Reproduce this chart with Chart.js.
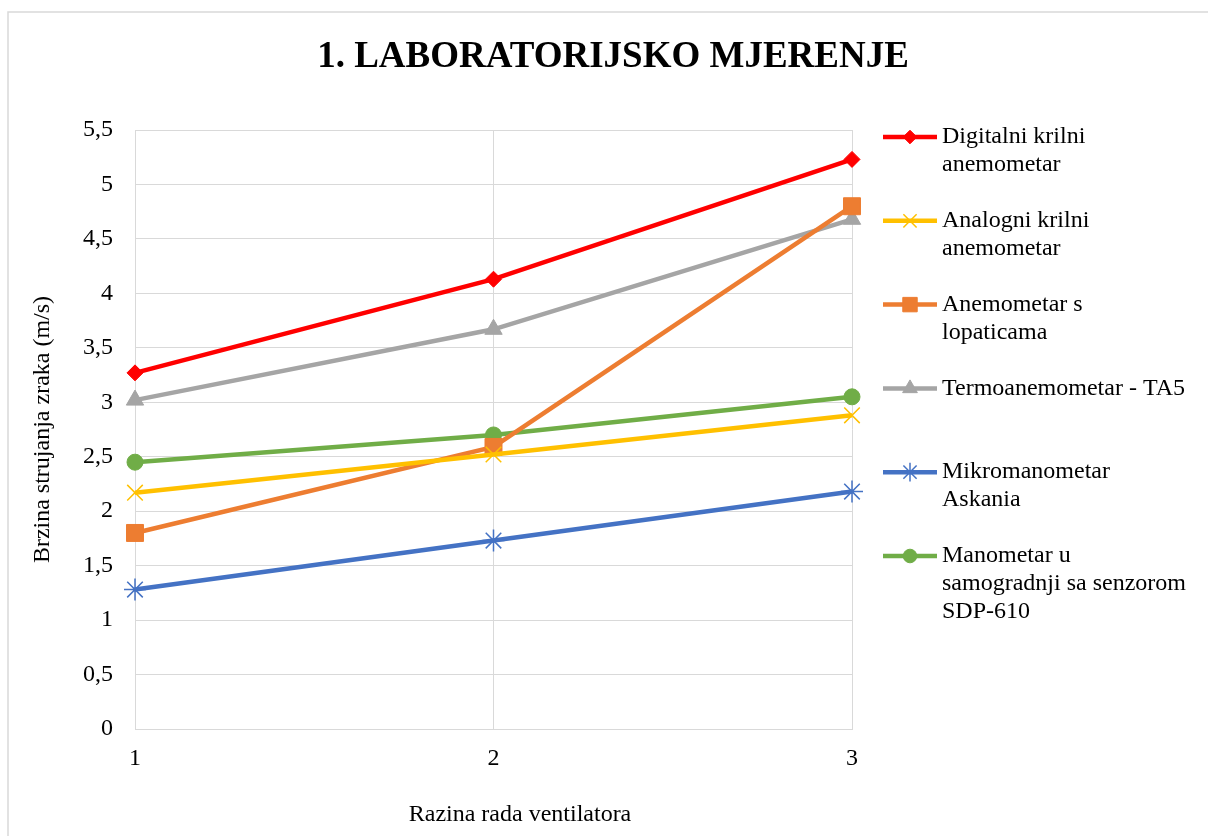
<!DOCTYPE html>
<html>
<head>
<meta charset="utf-8">
<script src="https://cdn.jsdelivr.net/npm/chart.js@4.4.1/dist/chart.umd.min.js"></script>
<style>
	body { margin: 0; background: #fff; }
	#wrap { width: 1208px; height: 836px; }
</style>
</head>
<body>
<div id="wrap"><canvas id="chart_mjerenje" width="1208" height="836"></canvas></div>
<script>
// podaci
var razine = ['1', '2', '3'];
var yOznake = ['0', '0,5', '1', '1,5', '2', '2,5', '3', '3,5', '4', '4,5', '5', '5,5'];

var digitalniKrilni = [3.27, 4.13, 5.23];
var analogniKrilni = [2.17, 2.52, 2.88];
var lopatice = [1.80, 2.59, 4.80];
var termoTA5 = [3.02, 3.67, 4.68];
var askania = [1.28, 1.73, 2.18];
var sdp610 = [2.45, 2.70, 3.05];

var nazivi = [
	'Digitalni krilni\nanemometar',
	'Analogni krilni\nanemometar',
	'Anemometar s\nlopaticama',
	'Termoanemometar - TA5',
	'Mikromanometar\nAskania',
	'Manometar u\nsamogradnji sa senzorom\nSDP-610',
];

var naslov = '1. LABORATORIJSKO MJERENJE';
var xNaslov = 'Razina rada ventilatora';
var yNaslov = 'Brzina strujanja zraka (m/s)';

var font = 'Liberation Serif';

function serija(label, data, color, style, radius, bw) {
	return {
		label: label,
		data: data,
		borderColor: color,
		backgroundColor: color,
		borderWidth: 4.5,
		pointStyle: style,
		pointRadius: radius,
		pointHoverRadius: radius,
		pointBackgroundColor: color,
		pointBorderColor: color,
		pointBorderWidth: bw,
		tension: 0,
		fill: false,
		clip: false,
	};
}

// legenda, okvir i naslov x osi
var legendaDesno = {
	id: 'legendaDesno',
	beforeDraw: function (chart) {
		var ctx = chart.ctx;
		ctx.save();
		ctx.fillStyle = '#fff';
		ctx.fillRect(0, 0, chart.width, chart.height);
		ctx.strokeStyle = '#d9d9d9';
		ctx.lineWidth = 1.5;
		ctx.strokeRect(8, 12, 1400, 1000);
		ctx.restore();
	},
	afterDraw: function (chart) {
		var ctx = chart.ctx;
		ctx.save();
		ctx.font = '24px "' + font + '"';
		ctx.fillStyle = '#000';
		ctx.textBaseline = 'middle';
		ctx.textAlign = 'center';
		ctx.fillText(xNaslov, 520, 814.5);
		ctx.textAlign = 'left';
		chart.data.datasets.forEach(function (ds, i) {
			var y = 137 + i * 83.8;
			ctx.strokeStyle = ds.borderColor;
			ctx.lineWidth = 4.5;
			ctx.beginPath();
			ctx.moveTo(883, y);
			ctx.lineTo(937, y);
			ctx.stroke();
			ctx.fillStyle = ds.pointBackgroundColor;
			ctx.strokeStyle = ds.pointBorderColor;
			ctx.lineWidth = ds.pointBorderWidth;
			if (Chart.helpers && Chart.helpers.drawPoint) {
				Chart.helpers.drawPoint(ctx, {
					pointStyle: ds.pointStyle,
					radius: ds.pointRadius * 0.85,
					borderWidth: ds.pointBorderWidth,
					rotation: 0
				}, 910, y);
			}
			ctx.fillStyle = '#000';
			ds.label.split('\n').forEach(function (line, k) {
				ctx.fillText(line, 942, y + k * 28);
			});
		});
		ctx.restore();
	}
};

var chart_mjerenje = new Chart(
	document.getElementById('chart_mjerenje'),
	{
		type: 'line',
		data: {
			labels: razine,
			datasets: [
				serija(nazivi[0], digitalniKrilni, '#ff0000', 'rectRot', 8, 1),
				serija(nazivi[1], analogniKrilni, '#ffc000', 'crossRot', 11, 1.5),
				serija(nazivi[2], lopatice, '#ed7d31', 'rect', 12, 1),
				serija(nazivi[3], termoTA5, '#a5a5a5', 'triangle', 10, 1),
				serija(nazivi[4], askania, '#4472c4', 'star', 11, 1.5),
				serija(nazivi[5], sdp610, '#70ad47', 'circle', 8, 1),
			]
		},
		options: {
			responsive: false,
			animation: false,
			events: [],
			layout: { padding: { left: 18, right: 0, top: 0, bottom: 0 } },
			plugins: {
				legend: { display: false },
				tooltip: { enabled: false },
				title: {
					display: true,
					text: naslov,
					color: '#000',
					font: { family: font, size: 37, weight: 'bold' },
					padding: { top: 35.5, bottom: 50.1 }
				}
			},
			scales: {
				x: {
					type: 'category',
					offset: false,
					grid: { color: '#d9d9d9', lineWidth: 1, offset: false, drawTicks: false },
					border: { color: '#d9d9d9', width: 1 },
					ticks: { color: '#000', padding: 15, font: { family: font, size: 24 } },
					afterFit: function (s) { s.height = 107; }
				},
				y: {
					min: 0,
					max: 5.5,
					grid: { color: '#d9d9d9', lineWidth: 1, drawTicks: false },
					border: { color: '#d9d9d9', width: 1 },
					ticks: {
						stepSize: 0.5,
						color: '#000',
						padding: 22,
						font: { family: font, size: 24 },
						callback: function (v, i) { return yOznake[i]; }
					},
					title: {
						display: true,
						text: yNaslov,
						color: '#000',
						font: { family: font, size: 24 },
						padding: { top: 10, bottom: 0 }
					},
					afterFit: function (s) { s.width = 117; }
				},
				desno: {
					type: 'linear',
					position: 'right',
					grid: { display: false },
					border: { display: false },
					ticks: { display: false },
					afterFit: function (s) { s.width = 356; }
				}
			}
		},
		plugins: [legendaDesno]
	}
);
</script>
</body>
</html>
